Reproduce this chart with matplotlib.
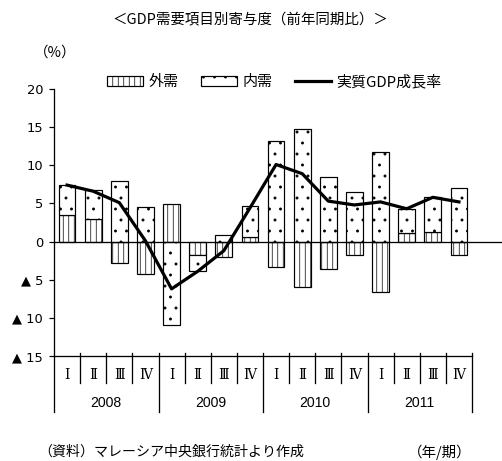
import matplotlib
matplotlib.use("Agg")
import matplotlib.pyplot as plt
import numpy as np
from matplotlib.lines import Line2D
from matplotlib.patches import Patch

# データ（前年同期比、%）
years = ["2008", "2009", "2010", "2011"]
quarters = ["Ⅰ", "Ⅱ", "Ⅲ", "Ⅳ"]
external = [3.5, 2.9, -2.8, -4.2, 4.9, -1.7, -2.0, 0.6,
            -3.3, -6.0, -3.6, -1.8, -6.6, 1.1, 1.3, -1.8]
domestic = [3.9, 3.8, 7.9, 4.5, -11.0, -2.1, 0.8, 4.0,
            13.2, 14.7, 8.5, 6.5, 11.7, 3.2, 4.5, 7.0]
gdp = [7.4, 6.6, 5.1, 0.1, -6.2, -3.9, -1.2, 4.4,
       10.1, 8.9, 5.3, 4.8, 5.2, 4.3, 5.8, 5.2]
yticks = [20, 15, 10, 5, 0, -5, -10, -15]

# ハッチの間隔は dpi 依存なので dpi=66 で描き、サイズはピクセル指定で換算
_W, _H, _DPI = 502, 461, 66
_LEFT, _RIGHT, _TOP, _BOTTOM = 54, 472, 89, 356


def pt(px: float) -> float:
    return px * 72 / _DPI


_FS = pt(14.5)
_NUM = ["Liberation Sans", "DejaVu Sans"]
_JP = ["Noto Sans CJK JP", "DejaVu Sans"]

plt.rcParams["font.family"] = _JP
plt.rcParams["hatch.linewidth"] = pt(0.7)

fig = plt.figure(figsize=(_W / _DPI, _H / _DPI), dpi=_DPI)
ax = fig.add_axes([_LEFT / _W, 1 - _BOTTOM / _H,
                   (_RIGHT - _LEFT) / _W, (_BOTTOM - _TOP) / _H])

n = len(gdp)
x = np.arange(n)
ext = np.array(external)
dom = np.array(domestic)
# 同符号なら外需の上に積み上げ
dom_bottom = np.where(np.sign(dom) == np.sign(ext), ext, 0.0)

bar_kw = dict(width=0.64, color="white", edgecolor="black", linewidth=pt(1.2), zorder=2)
ax.bar(x, ext, hatch="||", **bar_kw)
ax.bar(x, dom, bottom=dom_bottom, hatch=".", **bar_kw)
ax.plot(x, gdp, color="black", linewidth=pt(3.2), zorder=4)

ax.set_xlim(-0.5, n - 0.5)
ax.set_ylim(min(yticks), max(yticks))
ax.set_yticks(yticks)
ax.set_yticklabels([f"▲ {abs(v)}" if v < 0 else str(v) for v in yticks],
                   family=["DejaVu Sans"], fontsize=pt(13))
ax.tick_params(axis="y", direction="out", length=pt(5), width=pt(1.2), pad=pt(6))
ax.set_xticks([])
for side in ("top", "right", "left"):
    ax.spines[side].set_visible(False)
ax.spines["bottom"].set_linewidth(pt(1.3))

# ゼロ線（右端まで伸ばす）
ax.axhline(0, xmin=0, xmax=(_W - _LEFT) / (_RIGHT - _LEFT), color="black",
           linewidth=pt(1.3), clip_on=False, zorder=3)

ax_h = _BOTTOM - _TOP
sep_top = 3 / ax_h
q_bot = -(383 - _BOTTOM) / ax_h
y_bot = -(412 - _BOTTOM) / ax_h
xt = ax.get_xaxis_transform()
ax.plot([-0.5, -0.5], [1, y_bot], transform=xt, color="black", lw=pt(1.3), clip_on=False)
for i in range(1, n + 1):
    b = i - 0.5
    lo = y_bot if i % 4 == 0 else q_bot
    ax.plot([b, b], [sep_top, lo], transform=xt, color="black", lw=pt(1.3), clip_on=False)

for i in x:
    ax.text(i, -(375 - _BOTTOM) / ax_h, quarters[i % 4], transform=xt,
            ha="center", va="center", fontsize=pt(13.5),
            family=["DejaVu Serif", "Noto Sans CJK JP"])
for k, yr in enumerate(years):
    ax.text(4 * k + 1.5, -(403 - _BOTTOM) / ax_h, yr, transform=xt,
            ha="center", va="center", fontsize=pt(14), family=_NUM)

handles = [
    Patch(facecolor="white", edgecolor="black", linewidth=pt(1.2), hatch="||"),
    Patch(facecolor="white", edgecolor="black", linewidth=pt(1.2), hatch="."),
    Line2D([], [], color="black", linewidth=pt(3.2)),
]
fig.legend(handles, ["外需", "内需", "実質GDP成長率"], loc="center left",
           bbox_to_anchor=(107 / _W, 1 - 82 / _H), ncol=3, frameon=False,
           fontsize=pt(15), handlelength=2.4, handleheight=0.6, handletextpad=0.35,
           columnspacing=1.5, borderpad=0, borderaxespad=0)

fig.text(250 / _W, 1 - 20 / _H, "＜GDP需要項目別寄与度（前年同期比）＞",
         ha="center", va="center", fontsize=_FS)
fig.text(55 / _W, 1 - 53 / _H, "（%）", ha="center", va="center", fontsize=_FS)
fig.text(38 / _W, 1 - 452 / _H, "（資料）マレーシア中央銀行統計より作成",
         ha="left", va="center", fontsize=pt(14))
fig.text(408 / _W, 1 - 452 / _H, "（年/期）", ha="left", va="center", fontsize=_FS)

fig.savefig("out.png", dpi=_DPI)
